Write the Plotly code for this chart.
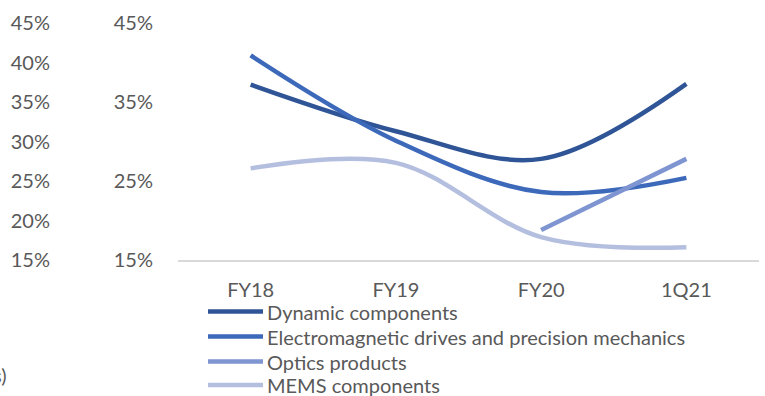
import plotly.graph_objects as go

# Margin data (%)
periods = ["FY18", "FY19", "FY20", "1Q21"]
dynamic = [37.2, 31.3, 27.8, 37.3]
electromagnetic = [40.9, 30.1, 23.6, 25.4]
optics = [None, None, 18.8, 27.8]
mems = [26.6, 27.3, 17.9, 16.6]

series_names = [
    "Dynamic components",
    "Electromagnetic drives and precision mechanics",
    "Optics products",
    "MEMS components",
]
series_values = [dynamic, electromagnetic, optics, mems]
series_colors = ["#2F5597", "#3D69BA", "#7E95D1", "#B4BFE0"]

inner_ticks = [15, 25, 35, 45]
outer_ticks = [15, 20, 25, 30, 35, 40, 45]

W, H = 765, 396
FONT = "Lato"
FS = 20
TXT = "#595959"


def px(x):
    return x / W


def py(y):
    return 1 - y / H


def pct(vals):
    return [f"{v}%" for v in vals]


fig = go.Figure()
for name, vals, col in zip(series_names, series_values, series_colors):
    fig.add_trace(go.Scatter(
        x=periods, y=vals, name=name, mode="lines",
        line=dict(color=col, width=4.5, shape="spline", smoothing=1.0),
        connectgaps=False, showlegend=False, hoverinfo="skip",
    ))

# keeps the second value axis populated
fig.add_trace(go.Scatter(x=[periods[0]], y=[None], yaxis="y2",
                         showlegend=False, hoverinfo="skip"))

tick_font = dict(family=FONT, size=FS, color=TXT)

fig.update_layout(
    template="none",
    width=W, height=H,
    margin=dict(l=0, r=0, t=0, b=0, autoexpand=False),
    paper_bgcolor="white", plot_bgcolor="white",
    font=dict(family=FONT, size=FS, color=TXT),
    xaxis=dict(
        domain=[px(178), px(759)],
        range=[-0.5, 3.5], automargin=False,
        showline=True, linecolor="#D9D9D9", linewidth=2,
        showgrid=False, zeroline=False,
        ticks="", ticklabelstandoff=11,
        tickfont=tick_font,
    ),
    yaxis=dict(
        domain=[py(260), py(23)],
        range=[15, 45], automargin=False,
        tickvals=inner_ticks, ticktext=pct(inner_ticks),
        showgrid=False, zeroline=False, showline=False,
        ticks="", ticklabelstandoff=24,
        tickfont=tick_font,
    ),
    yaxis2=dict(
        overlaying="y", side="left", anchor="free", position=px(52),
        range=[15, 45], automargin=False,
        tickvals=outer_ticks, ticktext=pct(outer_ticks),
        showgrid=False, zeroline=False, showline=False,
        ticks="", ticklabelstandoff=2,
        tickfont=tick_font,
    ),
)

# legend rows beneath the category axis
legend_rows = [311.5, 336.5, 361.5, 385]
shapes = []
annotations = []
for name, col, ry in zip(series_names, series_colors, legend_rows):
    shapes.append(dict(type="line", xref="paper", yref="paper",
                       x0=px(208), x1=px(263), y0=py(ry), y1=py(ry),
                       line=dict(color=col, width=4.5)))
    annotations.append(dict(text=name, xref="paper", yref="paper",
                            x=px(265), y=py(ry), xanchor="left", yanchor="middle",
                            showarrow=False, font=tick_font))

annotations.append(dict(text="s)", xref="paper", yref="paper",
                        x=px(9), y=py(375), xanchor="right", yanchor="middle",
                        showarrow=False, font=tick_font))

fig.update_layout(shapes=shapes, annotations=annotations)

fig.write_html("out.html")
